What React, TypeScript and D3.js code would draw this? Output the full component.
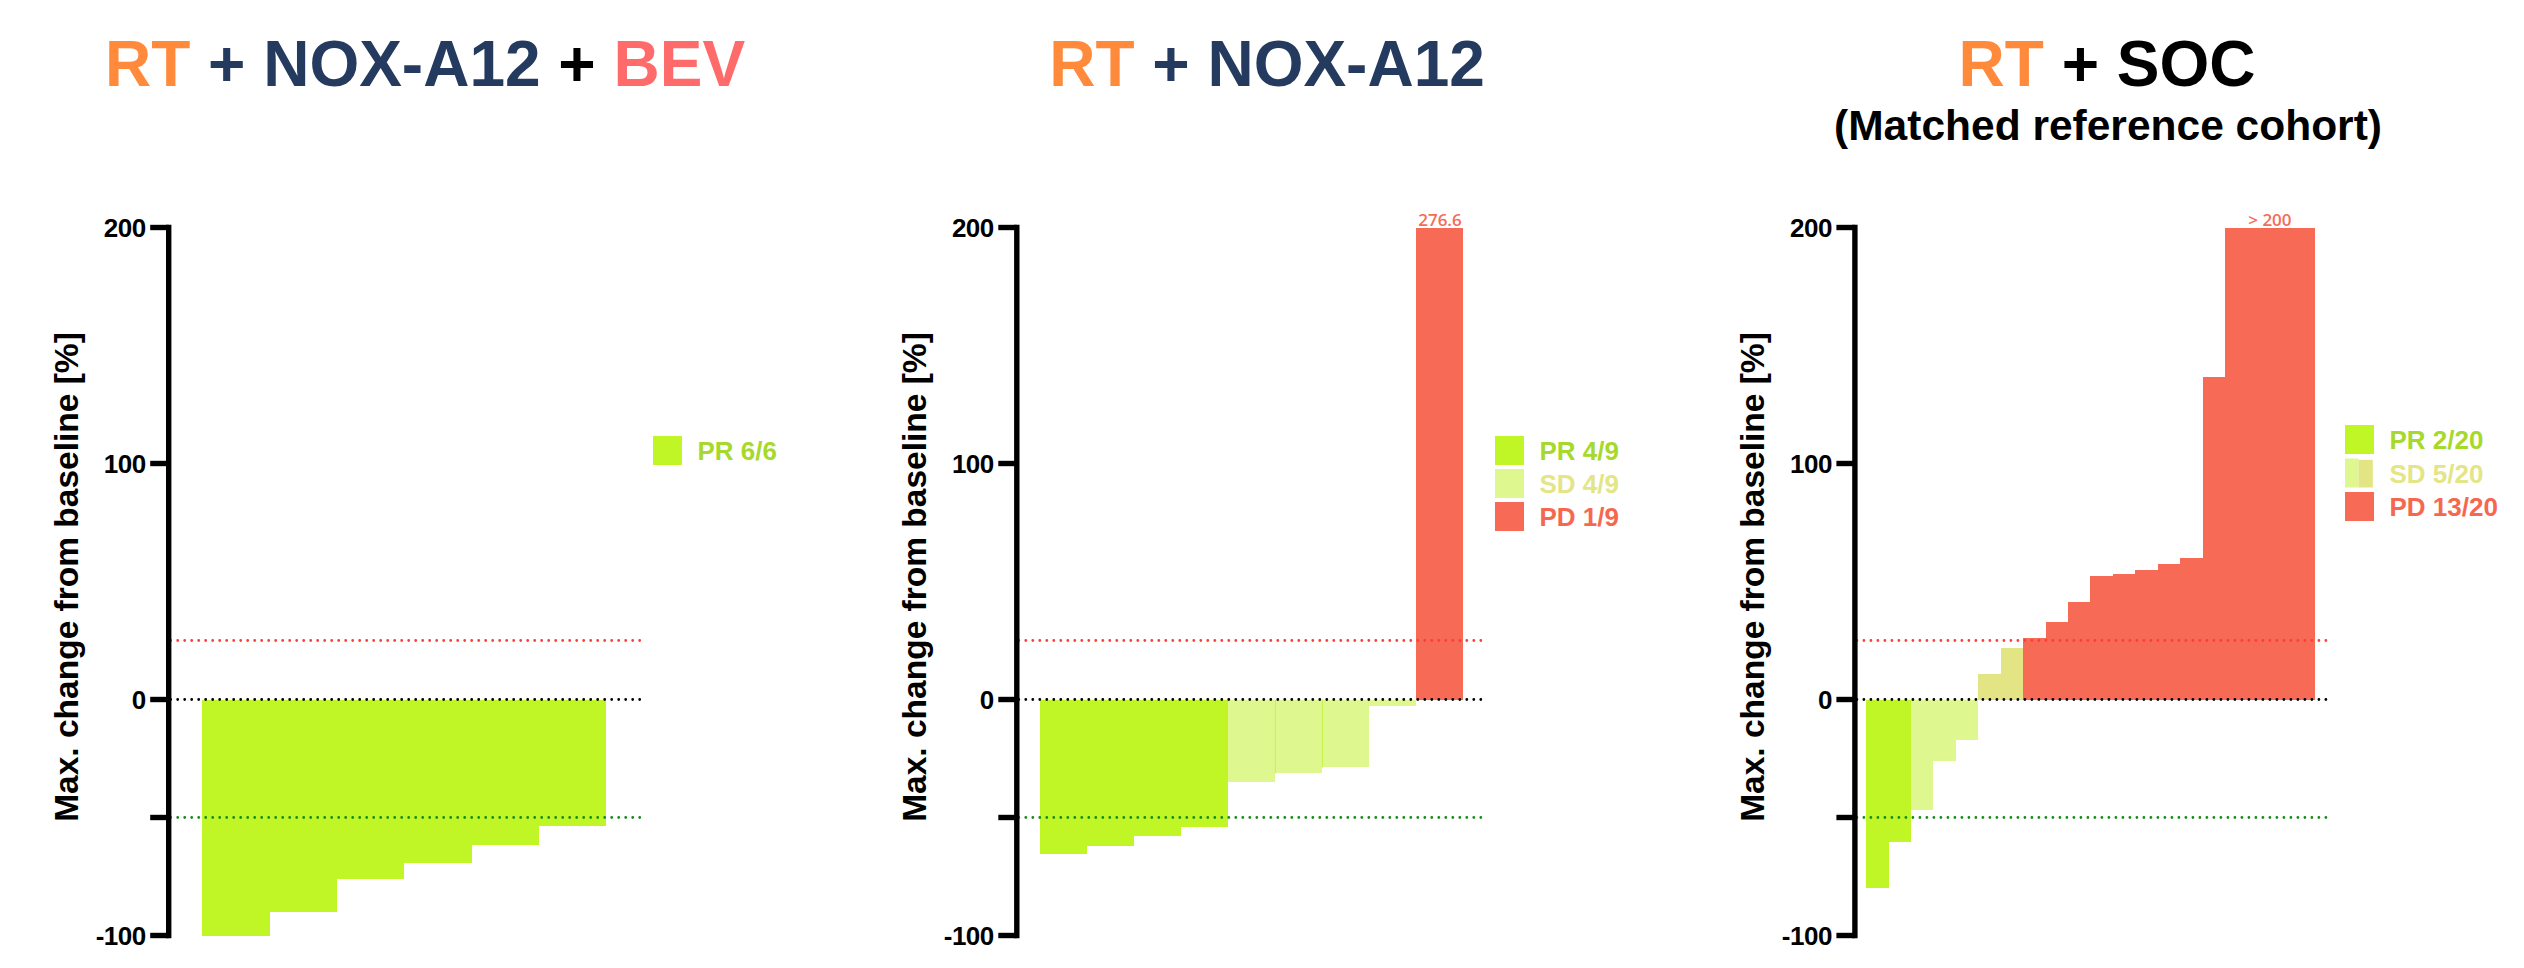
import React from "react";
import * as d3 from "d3";

// ---------- data ----------
const P1_VALUES = [-100, -90.2, -76.1, -69.1, -61.8, -53.7];
const P1_STATUS = ["PR", "PR", "PR", "PR", "PR", "PR"];

const P2_VALUES = [-65.6, -61.9, -57.9, -54.2, -35.0, -31.3, -28.8, -2.7, 276.6];
const P2_STATUS = ["PR", "PR", "PR", "PR", "SD", "SD", "SD", "SD", "PD"];

const P3_VALUES = [-79.9, -60.2, -46.7, -25.9, -17.0, 10.8, 21.8, 26.1, 32.8, 41.3, 52.3, 53.1, 55.0, 57.5, 60.0, 136.7, 200, 200, 200, 200];
const P3_STATUS = ["PR", "PR", "SD", "SD", "SD", "SDY", "SDY", "PD", "PD", "PD", "PD", "PD", "PD", "PD", "PD", "PD", "PD", "PD", "PD", "PD"];

const P1_LEGEND = ["PR 6/6"];
const P2_LEGEND = ["PR 4/9", "SD 4/9", "PD 1/9"];
const P3_LEGEND = ["PR 2/20", "SD 5/20", "PD 13/20"];

const Y_TICKS = [200, 100, 0, -50, -100];
const Y_TICK_LABELS = ["200", "100", "0", "", "-100"];
const REF_LINES = [25, 0, -50];

const Y_LABEL = "Max. change from baseline [%]";

// ---------- styles ----------
const FONT = "'Liberation Sans', Arial, Helvetica, sans-serif";
const BAR_COLORS: Record<string, string> = {
  PR: "#c0f526",
  SD: "#dff78f",
  SDY: "#e3e584",
  PD: "#f76a56",
};
const LEGEND_TEXT_COLORS = ["#a6d92b", "#e3e586", "#f5684f"];
const LEGEND_SWATCH = ["PR", "SD", "PD"];
const REF_COLORS: Record<number, string> = { 25: "#ff3b3b", 0: "#000000", [-50]: "#1a8c1a" };
const ORANGE = "#ff8a3c";
const NAVY = "#243a5e";
const BEV = "#ff6b6b";

const yScale = d3.scaleLinear().domain([-100, 200]).range([935.5, 227.5]);

type PanelProps = {
  axisX: number;
  right: number;
  values: number[];
  status: string[];
  legend: string[];
  legendX: number;
  legendY: number;
  legendStep: number;
  splitSD?: boolean;
  annotation?: { from: number; to: number; text: string };
  sdSeparators?: boolean;
};

function Panel(p: PanelProps) {
  const idx = p.values.map((_, i) => i);
  const x = d3.scaleBand<number>().domain(idx).range([p.axisX, p.right]).paddingInner(0).paddingOuter(0.5);
  const y = yScale;
  const ymax = y.domain()[1];
  return (
    <g>
      {/* bars */}
      {p.values.map((v, i) => {
        const vv = Math.min(v, ymax);
        const y0 = y(Math.max(0, vv));
        const y1 = y(Math.min(0, vv));
        const st = p.status[i];
        return (
          <rect
            key={i}
            x={x(i)!}
            y={y0}
            width={x.bandwidth()}
            height={y1 - y0}
            fill={BAR_COLORS[st]}
            shapeRendering="crispEdges"
          />
        );
      })}
      {/* thin separators between adjacent SD bars */}
      {p.sdSeparators &&
        p.values.map((v, i) => {
          if (i === 0 || p.status[i] !== "SD" || p.status[i - 1] !== "SD") return null;
          const lo = Math.min(v, p.values[i - 1]);
          if (Math.abs(v) < 5) return null;
          return (
            <line
              key={"s" + i}
              x1={x(i)!}
              x2={x(i)!}
              y1={y(0)}
              y2={y(Math.max(v, p.values[i - 1]) < 0 ? Math.max(v, p.values[i - 1]) : lo)}
              stroke="#c6f24a"
              strokeWidth={1}
            />
          );
        })}
      {/* reference lines */}
      {REF_LINES.map((r) => (
        <line
          key={r}
          x1={p.axisX + 2}
          x2={p.right}
          y1={y(r)}
          y2={y(r)}
          stroke={REF_COLORS[r]}
          strokeWidth={2.8}
          strokeLinecap="round"
          strokeDasharray="0 7"
        />
      ))}
      {/* annotation */}
      {p.annotation && (
        <text
          x={(x(p.annotation.from)! + x(p.annotation.to)! + x.bandwidth()) / 2}
          y={y(ymax) - 2}
          textAnchor="middle"
          fontFamily="'Open Sans', sans-serif"
          fontWeight={600}
          fontSize={17}
          fill="#f76a56"
        >
          {p.annotation.text}
        </text>
      )}
      {/* y axis */}
      <line x1={p.axisX} x2={p.axisX} y1={y(200) - 2.8} y2={y(-100) + 2.8} stroke="#000" strokeWidth={5.4} />
      {Y_TICKS.map((t, i) => (
        <g key={t}>
          <line x1={p.axisX - 18.5} x2={p.axisX} y1={y(t)} y2={y(t)} stroke="#000" strokeWidth={5.4} />
          {Y_TICK_LABELS[i] && (
            <text
              x={p.axisX - 23}
              y={y(t) + 9.2}
              textAnchor="end"
              fontFamily={FONT}
              fontWeight="bold"
              fontSize={26}
              fill="#000"
              letterSpacing={-0.5}
            >
              {Y_TICK_LABELS[i]}
            </text>
          )}
        </g>
      ))}
      <text
        transform={`translate(${p.axisX - 90.5},577) rotate(-90)`}
        textAnchor="middle"
        fontFamily={FONT}
        fontWeight="bold"
        fontSize={33.5}
        fill="#000"
      >
        {Y_LABEL}
      </text>
      {/* legend */}
      {p.legend.map((lab, i) => {
        const yy = p.legendY + i * p.legendStep;
        const sw = LEGEND_SWATCH[i];
        return (
          <g key={lab}>
            {p.splitSD && sw === "SD" ? (
              <g>
                <rect x={p.legendX} y={yy} width={13.5} height={29} fill={BAR_COLORS.SD} />
                <rect x={p.legendX + 13.5} y={yy + 1.3} width={14.3} height={27.7} fill={BAR_COLORS.SDY} />
              </g>
            ) : (
              <rect x={p.legendX} y={yy} width={29} height={29} fill={BAR_COLORS[sw]} />
            )}
            <text
              x={p.legendX + 44.5}
              y={yy + 24.3}
              fontFamily={FONT}
              fontWeight="bold"
              fontSize={26}
              fill={LEGEND_TEXT_COLORS[i]}
            >
              {lab}
            </text>
          </g>
        );
      })}
    </g>
  );
}

export default function App() {
  return (
    <svg
      width={2524}
      height={968}
      viewBox="0 0 2524 968"
      style={{ position: "absolute", left: 0, top: 0, display: "block", background: "#fff" }}
    >
      <rect x={0} y={0} width={2524} height={968} fill="#fff" />
      {/* titles */}
      <text x={425} y={86} textAnchor="middle" fontFamily={FONT} fontWeight="bold" fontSize={64}>
        <tspan fill={ORANGE}>RT</tspan>
        <tspan fill={NAVY}> + NOX-A12 </tspan>
        <tspan fill="#000">+ </tspan>
        <tspan fill={BEV}>BEV</tspan>
      </text>
      <text x={1267} y={86} textAnchor="middle" fontFamily={FONT} fontWeight="bold" fontSize={64}>
        <tspan fill={ORANGE}>RT</tspan>
        <tspan fill={NAVY}> + NOX-A12</tspan>
      </text>
      <text x={2107} y={86} textAnchor="middle" fontFamily={FONT} fontWeight="bold" fontSize={64}>
        <tspan fill={ORANGE}>RT</tspan>
        <tspan fill="#000"> + SOC</tspan>
      </text>
      <text x={2108} y={140} textAnchor="middle" fontFamily={FONT} fontWeight="bold" fontSize={42.5} fill="#000">
        (Matched reference cohort)
      </text>

      <Panel
        axisX={168.7}
        right={640}
        values={P1_VALUES}
        status={P1_STATUS}
        legend={P1_LEGEND}
        legendX={653}
        legendY={436}
        legendStep={33}
      />
      <Panel
        axisX={1016.8}
        right={1487}
        values={P2_VALUES}
        status={P2_STATUS}
        legend={P2_LEGEND}
        legendX={1495}
        legendY={436}
        legendStep={33}
        sdSeparators
        annotation={{ from: 8, to: 8, text: "276.6" }}
      />
      <Panel
        axisX={1854.9}
        right={2326}
        values={P3_VALUES}
        status={P3_STATUS}
        legend={P3_LEGEND}
        legendX={2345}
        legendY={425}
        legendStep={33.5}
        splitSD
        annotation={{ from: 16, to: 19, text: "> 200" }}
      />
    </svg>
  );
}
